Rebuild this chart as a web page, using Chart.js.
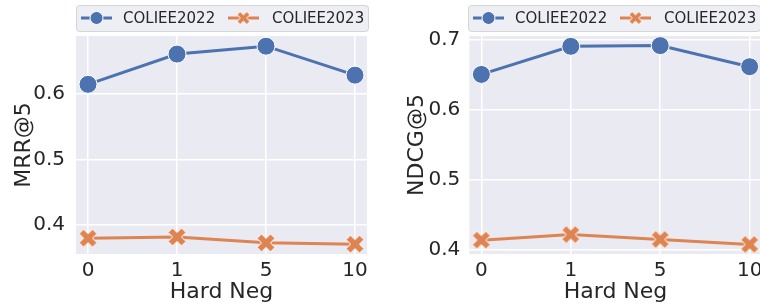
<!DOCTYPE html>
<html><head><meta charset="utf-8">
<script src="https://cdn.jsdelivr.net/npm/chart.js@4"></script>
<style>
html,body{margin:0;padding:0;background:#fff;overflow:hidden;width:760px;height:308px;}
#wrap{position:relative;width:760px;height:308px;overflow:hidden;}
canvas{position:absolute;top:0;}
</style></head><body>
<div id="wrap">
<canvas id="c1" width="380" height="308" style="left:0"></canvas>
<canvas id="c2" width="400" height="308" style="left:380px"></canvas>
</div>
<script>
const categories = ['0', '1', '5', '10'];
const seriesNames = ['COLIEE2022', 'COLIEE2023'];
const mrr2022 = [0.614, 0.660, 0.672, 0.628];
const mrr2023 = [0.380, 0.382, 0.373, 0.371];
const ndcg2022 = [0.650, 0.690, 0.691, 0.661];
const ndcg2023 = [0.414, 0.422, 0.415, 0.408];
const mrrTicks = [0.4, 0.5, 0.6];
const ndcgTicks = [0.4, 0.5, 0.6, 0.7];
const xTitle = 'Hard Neg';

const BLUE = '#4C72B0', ORANGE = '#DD8452', TEXT = '#262626';
const FONT = "'DejaVu Sans', sans-serif";

function xMarker(size, color) {
  const pad = 2, c = document.createElement('canvas');
  c.width = c.height = size + pad * 2;
  const g = c.getContext('2d');
  const pts = [[-1,-2],[0,-1],[1,-2],[2,-1],[1,0],[2,1],[1,2],[0,1],[-1,2],[-2,1],[-1,0],[-2,-1]];
  const s = size / 4, o = c.width / 2;
  g.beginPath();
  pts.forEach((p, i) => { const x = o + p[0] * s, y = o + p[1] * s; i ? g.lineTo(x, y) : g.moveTo(x, y); });
  g.closePath();
  g.fillStyle = color; g.fill();
  g.lineWidth = 1; g.strokeStyle = '#ffffff'; g.stroke();
  return c;
}
const xBig = xMarker(18, ORANGE);
const xSmall = xMarker(13, ORANGE);

const bgPlugin = {
  id: 'bgArea',
  beforeDraw(chart) {
    const { ctx, chartArea: a } = chart;
    ctx.save(); ctx.fillStyle = '#EAEAF2';
    ctx.fillRect(a.left, a.top, a.right - a.left, a.bottom - a.top);
    ctx.restore();
  }
};

const legendPlugin = {
  id: 'boxLegend',
  afterDraw(chart, args, opts) {
    const ctx = chart.ctx;
    const L = opts.left, T = 5, W = 292, H = 26, cy = T + H / 2;
    ctx.save();
    ctx.beginPath();
    ctx.roundRect(L + 0.5, T + 0.5, W, H, 3);
    ctx.fillStyle = 'rgba(234,234,242,0.8)'; ctx.fill();
    ctx.strokeStyle = 'rgba(204,204,204,0.8)'; ctx.lineWidth = 1; ctx.stroke();
    const items = [
      { name: seriesNames[0], color: BLUE, off: 5, text: 47, marker: 'circle' },
      { name: seriesNames[1], color: ORANGE, off: 152, text: 196, marker: 'x' }
    ];
    items.forEach(it => {
      const x0 = L + it.off, x1 = x0 + 31, mx = (x0 + x1) / 2;
      ctx.beginPath(); ctx.moveTo(x0, cy); ctx.lineTo(x1, cy);
      ctx.strokeStyle = it.color; ctx.lineWidth = 3; ctx.stroke();
      if (it.marker === 'circle') {
        ctx.beginPath(); ctx.arc(mx, cy, 6.5, 0, Math.PI * 2);
        ctx.fillStyle = it.color; ctx.fill();
        ctx.strokeStyle = '#fff'; ctx.lineWidth = 1; ctx.stroke();
      } else {
        ctx.drawImage(xSmall, mx - xSmall.width / 2, cy - xSmall.height / 2);
      }
      ctx.fillStyle = TEXT; ctx.font = '15px ' + FONT;
      ctx.textBaseline = 'middle'; ctx.textAlign = 'left';
      ctx.fillText(it.name, L + it.text, cy + 1);
    });
    ctx.restore();
  }
};

function makeChart(id, s1, s2, yTicks, yTitle, cfg) {
  const toPts = arr => arr.map((v, i) => ({ x: i, y: v }));
  return new Chart(document.getElementById(id), {
    type: 'line',
    data: {
      datasets: [
        { label: seriesNames[0], data: toPts(s1), borderColor: BLUE, backgroundColor: BLUE,
          borderWidth: 3, pointStyle: 'circle', pointRadius: 9, pointHoverRadius: 9,
          pointBorderColor: '#ffffff', pointBorderWidth: 1, tension: 0, clip: false },
        { label: seriesNames[1], data: toPts(s2), borderColor: ORANGE, backgroundColor: ORANGE,
          borderWidth: 3, pointStyle: xBig, pointRadius: 9, tension: 0, clip: false }
      ]
    },
    options: {
      responsive: false, animation: false, devicePixelRatio: 1,
      layout: { padding: { top: 36, right: cfg.padRight, left: 0, bottom: 0 } },
      plugins: { legend: { display: false }, tooltip: { enabled: false }, boxLegend: { left: cfg.legendLeft } },
      scales: {
        x: {
          type: 'linear', min: -0.135, max: 3.135,
          afterBuildTicks: s => { s.ticks = categories.map((c, i) => ({ value: i })); },
          afterFit: s => { s.height = 54; },
          ticks: { callback: v => categories[v], color: TEXT, font: { family: FONT, size: 20 }, padding: 5, maxRotation: 0, autoSkip: false },
          grid: { color: '#ffffff', lineWidth: 1.5, drawTicks: false },
          border: { display: false },
          title: { display: true, text: xTitle, color: TEXT, font: { family: FONT, size: 22 }, padding: { top: 0, bottom: 3 } }
        },
        y: {
          min: cfg.yMin, max: cfg.yMax,
          afterBuildTicks: s => { s.ticks = yTicks.map(v => ({ value: v })); },
          afterFit: s => { s.width = cfg.yWidth; },
          ticks: { callback: v => v.toFixed(1), color: TEXT, font: { family: FONT, size: 20 }, padding: cfg.yTickPad },
          grid: { color: '#ffffff', lineWidth: 1.5, drawTicks: false },
          border: { display: false },
          title: { display: true, text: yTitle, color: TEXT, font: { family: FONT, size: 22 }, padding: { top: cfg.yTitlePad, bottom: 0 } }
        }
      }
    },
    plugins: [bgPlugin, legendPlugin]
  });
}

makeChart('c1', mrr2022, mrr2023, mrrTicks, 'MRR@5',
  { yMin: 0.356, yMax: 0.6875, yWidth: 76, padRight: 13, legendLeft: 76, yTickPad: 11, yTitlePad: 11 });
makeChart('c2', ndcg2022, ndcg2023, ndcgTicks, 'NDCG@5',
  { yMin: 0.3943, yMax: 0.7047, yWidth: 89.3, padRight: 18.3, legendLeft: 88, yTickPad: 9, yTitlePad: 24 });
</script>
</body></html>
